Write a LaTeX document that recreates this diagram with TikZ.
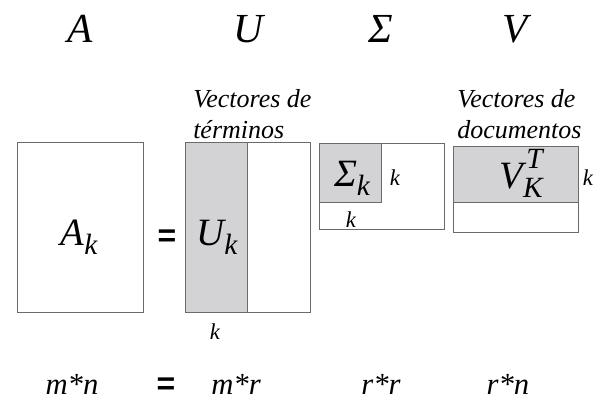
\documentclass[tikz,border=0pt]{standalone}
\usepackage{fontspec}
\setmainfont{Liberation Serif}
\newfontfamily\eqfont{Liberation Sans}
\usetikzlibrary{positioning}

\definecolor{cellgray}{HTML}{D3D3D5}
\definecolor{edge}{HTML}{6A6A6A}

% letter with a lowered index, and with index and exponent
\newcommand{\idx}[2]{#1\raisebox{-0.24em}{\fontsize{22}{22}\selectfont #2}}
\newcommand{\idxexp}[3]{#1\raisebox{-0.24em}{\fontsize{22}{22}\selectfont #2}\llap{\raisebox{0.5em}{\fontsize{22}{22}\selectfont #3}}}

\begin{document}
\begin{tikzpicture}[
  x=0.75pt, y=-0.75pt,
  head/.style={font=\fontsize{31}{31}\selectfont\itshape, anchor=base},
  big/.style={font=\fontsize{29}{29}\selectfont\itshape, anchor=base, inner sep=0pt},
  note/.style={font=\fontsize{19.5}{19.5}\selectfont\itshape, anchor=base west, inner sep=0pt},
  dim/.style={font=\fontsize{17}{17}\selectfont\itshape, anchor=base, inner sep=0pt},
  size/.style={font=\fontsize{23}{23}\selectfont\itshape, anchor=base, inner sep=0pt},
  eq/.style={font=\fontsize{24}{24}\selectfont\eqfont\bfseries, inner sep=0pt},
  mat/.style={draw=edge, line width=0.6pt}
]
\useasboundingbox (0,0) rectangle (595,400);

% column heads
\node[head] (hA) at (80,42) {A};
\node[head] (hU) at (248,42) {U};
\node[head] (hS) at (381,42) {Σ};
\node[head] (hV) at (515,42) {V};

\node[note] (termA) at (193,107) {Vectores de};
\node[note] (termB) at (193,138) {términos};
\node[note] (docA) at (457,107) {Vectores de};
\node[note] (docB) at (457,138) {documentos};

% the four matrices
\draw[mat] (17,142) rectangle (143,312);
\fill[cellgray] (185,142) rectangle (247,312);
\draw[mat] (185,142) rectangle (310,312);
\draw[mat] (247,142) -- (247,312);
\fill[cellgray] (319,143) rectangle (381,202);
\draw[mat] (319,143) rectangle (444,229);
\draw[mat] (319,202) -| (381,143);
\fill[cellgray] (453,146) rectangle (578,202);
\draw[mat] (453,146) rectangle (578,232);
\draw[mat] (453,202) -- (578,202);

\node[big] (Ak) at (79,245) {\idx{A}{k}};
\node[eq] (eqTop) at (167,238) {=};
\node[big] (Uk) at (217,245) {\idx{U}{k}};
\node[big] (Sk) at (352,186) {\idx{Σ}{k}};
\node[big] (Vk) at (521,188) {\idxexp{V}{K}{T}};

\node[dim] (kU) at (215,339) {k};
\node[dim] (kS) at (395,185) {k};
\node[dim] (kSb) at (351,227) {k};
\node[dim] (kV) at (588,185) {k};

% sizes
\node[size] (mn) at (72,394) {m*n};
\node[eq] (eqBot) at (166,386) {=};
\node[size] (mr) at (236,394) {m*r};
\node[size] (rr) at (381,394) {r*r};
\node[size] (rn) at (508,394) {r*n};
\end{tikzpicture}
\end{document}
